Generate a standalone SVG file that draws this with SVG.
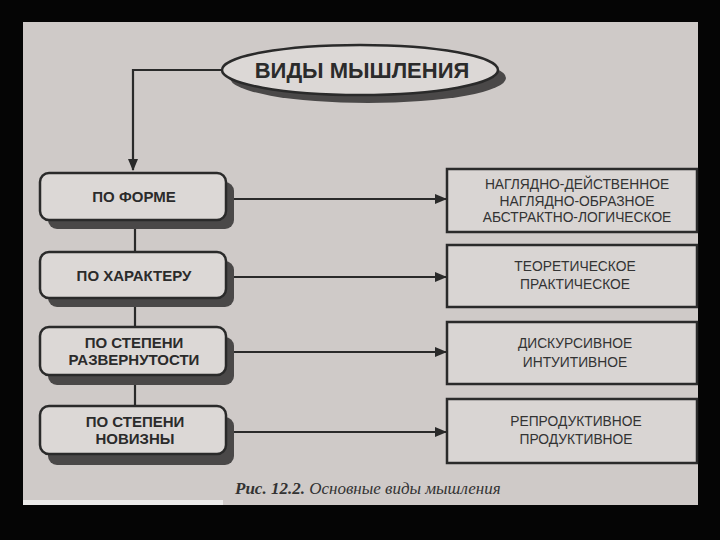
<svg xmlns="http://www.w3.org/2000/svg" width="720" height="540" viewBox="0 0 720 540">
  <defs>
    <marker id="arr" markerWidth="12" markerHeight="10" refX="11" refY="5" orient="auto" markerUnits="userSpaceOnUse">
      <path d="M0,0 L12,5 L0,10 Z" fill="#2a2a2a"/>
    </marker>
  </defs>
  <style>
    .paper { fill: #cfcac8; }
    .shadow { fill: #4a4848; }
    .lbox { fill: #dcd8d6; stroke: #2a2a2a; stroke-width: 2.5; }
    .rbox { fill: #d9d5d3; stroke: #2a2a2a; stroke-width: 2.5; }
    .conn { stroke: #2a2a2a; stroke-width: 2.2; fill: none; }
    .lt { font-family: "Liberation Sans", Arial, sans-serif; font-weight: bold; font-size: 15px; fill: #2b2b2b; text-anchor: middle; }
    .rt { font-family: "Liberation Sans", Arial, sans-serif; font-size: 13.8px; fill: #333; text-anchor: middle; }
    .title { font-family: "Liberation Sans", Arial, sans-serif; font-weight: bold; font-size: 22px; fill: #2b2b2b; text-anchor: middle; }
    .cap { font-family: "Liberation Serif", "Times New Roman", serif; font-style: italic; font-size: 17px; fill: #333; }
  </style>
  <rect x="0" y="0" width="720" height="540" fill="#050505"/>
  <rect class="paper" x="23" y="22" width="675" height="483"/>
  <rect x="23" y="500" width="200" height="5" fill="#ecebea"/>

  <g id="connectors">
    <path class="conn" d="M222,70 H133 V170" marker-end="url(#arr)"/>
    <path class="conn" d="M135,222 V252"/>
    <path class="conn" d="M135,300 V327"/>
    <path class="conn" d="M135,377 V406"/>
    <path class="conn" d="M233,199 H446" marker-end="url(#arr)"/>
    <path class="conn" d="M233,277 H446" marker-end="url(#arr)"/>
    <path class="conn" d="M233,352 H446" marker-end="url(#arr)"/>
    <path class="conn" d="M233,432 H446" marker-end="url(#arr)"/>
  </g>

  <g id="root">
    <ellipse class="shadow" cx="368" cy="78" rx="138" ry="25"/>
    <ellipse class="lbox" cx="360" cy="70" rx="138" ry="25"/>
    <text class="title" x="362" y="78">ВИДЫ МЫШЛЕНИЯ</text>
  </g>

  <g id="form">
    <rect class="shadow" x="48" y="182" width="186" height="47" rx="9"/>
    <rect class="lbox" x="40" y="173" width="186" height="47" rx="9"/>
    <text class="lt" x="134" y="202">ПО ФОРМЕ</text>
  </g>
  <g id="character">
    <rect class="shadow" x="48" y="261" width="186" height="46" rx="9"/>
    <rect class="lbox" x="40" y="252" width="186" height="46" rx="9"/>
    <text class="lt" x="134" y="281">ПО ХАРАКТЕРУ</text>
  </g>
  <g id="expansion">
    <rect class="shadow" x="48" y="337" width="186" height="48" rx="9"/>
    <rect class="lbox" x="40" y="327" width="186" height="48" rx="9"/>
    <text class="lt" x="134" y="348">ПО СТЕПЕНИ</text>
    <text class="lt" x="134" y="365">РАЗВЕРНУТОСТИ</text>
  </g>
  <g id="novelty">
    <rect class="shadow" x="48" y="417" width="186" height="48" rx="9"/>
    <rect class="lbox" x="40" y="406" width="186" height="48" rx="9"/>
    <text class="lt" x="135" y="427">ПО СТЕПЕНИ</text>
    <text class="lt" x="135" y="444">НОВИЗНЫ</text>
  </g>

  <g id="form-types">
    <rect class="rbox" x="447" y="169" width="250" height="63"/>
    <text class="rt" x="577" y="189">НАГЛЯДНО-ДЕЙСТВЕННОЕ</text>
    <text class="rt" x="577" y="206">НАГЛЯДНО-ОБРАЗНОЕ</text>
    <text class="rt" x="577" y="222">АБСТРАКТНО-ЛОГИЧЕСКОЕ</text>
  </g>
  <g id="character-types">
    <rect class="rbox" x="447" y="245" width="250" height="62"/>
    <text class="rt" x="575" y="271">ТЕОРЕТИЧЕСКОЕ</text>
    <text class="rt" x="575" y="289">ПРАКТИЧЕСКОЕ</text>
  </g>
  <g id="expansion-types">
    <rect class="rbox" x="447" y="322" width="250" height="62"/>
    <text class="rt" x="575" y="348">ДИСКУРСИВНОЕ</text>
    <text class="rt" x="575" y="367">ИНТУИТИВНОЕ</text>
  </g>
  <g id="novelty-types">
    <rect class="rbox" x="447" y="399" width="250" height="64"/>
    <text class="rt" x="576" y="426">РЕПРОДУКТИВНОЕ</text>
    <text class="rt" x="576" y="444">ПРОДУКТИВНОЕ</text>
  </g>

  <text class="cap" x="235" y="494"><tspan font-weight="bold">Рис. 12.2.</tspan> Основные виды мышления</text>
</svg>
